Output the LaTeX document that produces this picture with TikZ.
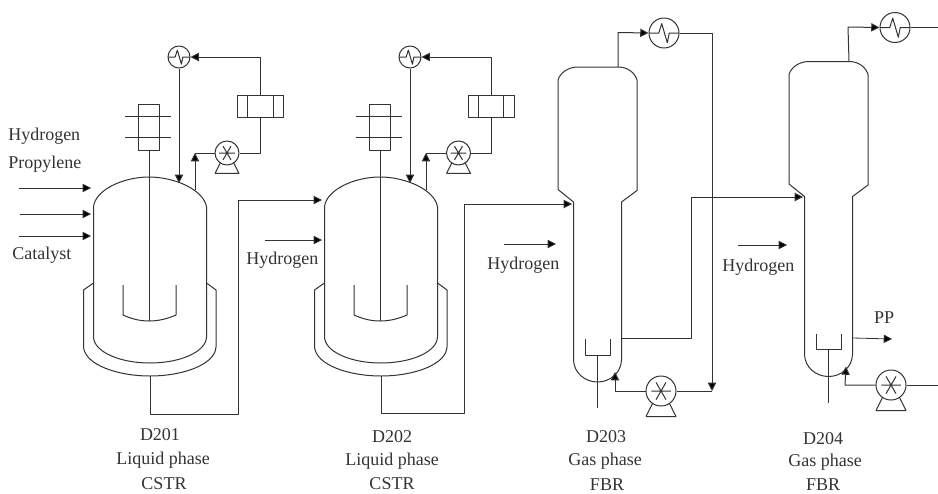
\documentclass[tikz,border=0pt]{standalone}
\usepackage{fontspec}
\setmainfont{Liberation Serif}
\usetikzlibrary{arrows.meta}
\definecolor{ink}{HTML}{333333}
\tikzset{
  line/.style={draw=ink,line width=0.75pt,line join=round},
  flow/.style={line,-{Triangle[length=6.2pt,width=6.2pt,fill=black]}},
  feed/.style={draw=ink,line width=0.6pt,-{Triangle[length=6.2pt,width=6.2pt,fill=black]}},
  lbl/.style={text=ink,inner sep=0pt,font=\fontsize{13.5pt}{16pt}\selectfont},
  ring/.style={circle,line,fill=white,inner sep=0pt,minimum size=#1*1.5pt},
  pics/pump/.style={code={
    \draw[line] (-#1,1.7*#1) -- (#1,1.7*#1) -- (.55*#1,.8*#1) (-#1,1.7*#1) -- (-.55*#1,.8*#1);
    \node[ring=#1] (-c) at (0,0) {};
    \draw[line] (-.65*#1,0) -- (.65*#1,0) (-.33*#1,-.57*#1) -- (.33*#1,.57*#1) (-.33*#1,.57*#1) -- (.33*#1,-.57*#1);
  }},
  pics/cooler/.style={code={
    \node[ring=#1] (-c) at (0,0) {};
    \draw[line] (-#1,0) -- (-.35*#1,0) -- (-.15*#1,-.62*#1) -- (.22*#1,.65*#1) -- (.35*#1,0) -- (#1,0);
  }},
  pics/reactor/.style={code={
    \coordinate (-top) at (149,177);
    \coordinate (-down) at (179,183);
    \coordinate (-up) at (195,190);
    \coordinate (-out) at (150,376);
    \draw[line] (93.5,283) -- (93.5,337) .. controls (94,352) and (120,363) .. (150,363)
      .. controls (180,363) and (206,352) .. (206.5,337) -- (206.5,207)
      .. controls (204,190) and (175,177) .. (149,177)
      .. controls (123,177) and (95,190) .. (93.5,207) -- (93.5,283);
    \draw[line] (93.5,283) -- (83.5,290) -- (83.5,347) .. controls (85,365) and (118,376) .. (150,376)
      .. controls (182,376) and (215,365) .. (216,347) -- (216,290) -- (206.5,283);
    \draw[line] (123,285) -- (123,315) .. controls (132,319) and (140,321) .. (149,321)
      .. controls (158,321) and (167,319) .. (176,315) -- (176,285);
    \draw[line] (138,104) rectangle (159,150);
    \draw[line] (125,116) -- (171,116) (125,137) -- (171,137);
    \draw[line] (149,150) -- (149,321);
  }},
  pics/column/.style={code={
    \coordinate (-outl) at (618,67);
    \coordinate (-ret) at (615,372);
    \coordinate (-side) at (621.5,338);
    \draw[line] (573.5,202) -- (573.5,360) .. controls (574,373) and (585,382) .. (597.5,382)
      .. controls (610,382) and (621,373) .. (621.5,360) -- (621.5,202) -- (637,190.5) -- (637,80)
      .. controls (635,73) and (628,67) .. (618,67) -- (578,67)
      .. controls (568,67) and (560,73) .. (558,80) -- (558,189.5) -- cycle;
    \draw[line] (585.5,339) -- (585.5,355) -- (610,355) -- (610,339);
    \draw[line] (597.5,355) -- (597.5,408);
  }}
}
\begin{document}
\begin{tikzpicture}[x=0.75pt,y=-0.75pt]
\useasboundingbox (0,0) rectangle (938,493);
% vessels
\pic (r1) at (0,0) {reactor};
\pic (r2) at (231,0) {reactor};
\pic (c3) at (0,0) {column};
\pic (c4) at (231,-5.5) {column};
% exchangers, pumps, filters
\pic (h1) at (179,57) {cooler=11};
\pic (h2) at (410,57) {cooler=11};
\pic (h3) at (664,33) {cooler=15};
\pic (h4) at (895,27.5) {cooler=15};
\pic (p1) at (227,153) {pump=12};
\pic (p2) at (458.5,153) {pump=12};
\pic (p3) at (661,391) {pump=15};
\pic (p4) at (891,385) {pump=15};
\node[line,minimum width=34.5pt,minimum height=16.5pt,inner sep=0pt] (b1) at (260,106) {};
\node[line,minimum width=34.5pt,minimum height=16.5pt,inner sep=0pt] (b2) at (491,106) {};
\draw[line] (247,95) -- (247,117) (273,95) -- (273,117) (478,95) -- (478,117) (503,95) -- (503,117);
% loop coordinates
\coordinate (a1) at (195,153);
\coordinate (k1) at (260,153);
\coordinate (n1) at (260,57);
\coordinate (a2) at (426,153);
\coordinate (k2) at (491,153);
\coordinate (n2) at (491,57);
\coordinate (j1) at (238,414);
\coordinate (j2) at (464,413);
\coordinate (e1) at (322,200);
\coordinate (e2) at (572,204);
\coordinate (j3) at (691,338);
\coordinate (e3) at (803,197);
\coordinate (t3) at (618,32.5);
\coordinate (t4) at (848,27);
\coordinate (d3) at (712,33);
\coordinate (d3b) at (712,391);
\coordinate (q3) at (615,391);
\coordinate (q4) at (845,385);
\coordinate (x4) at (938,27.5);
\coordinate (y4) at (938,385);
\coordinate (s4) at (853,338);
\coordinate (pp) at (892,339);
% reflux loops
\draw[flow] (h1-c.south) -- (r1-down);
\draw[flow] (h2-c.south) -- (r2-down);
\draw[flow] (r1-up) -- (a1);
\draw[line] (a1) -- (p1-c.west);
\draw[line] (p1-c.east) -- (k1) -- (b1.south);
\draw[flow] (b1.north) -- (n1) -- (h1-c.east);
\draw[flow] (r2-up) -- (a2);
\draw[line] (a2) -- (p2-c.west);
\draw[line] (p2-c.east) -- (k2) -- (b2.south);
\draw[flow] (b2.north) -- (n2) -- (h2-c.east);
% transfers
\draw[flow] (r1-out) |- (j1) |- (e1);
\draw[flow] (r2-out) |- (j2) |- (e2);
\draw[flow] (c3-side) -| (j3) |- (e3);
% column loops
\draw[flow] (c3-outl) -- (t3) -- (h3-c.west);
\draw[flow] (c4-outl) -- (t4) -- (h4-c.west);
\draw[flow] (h3-c.east) -- (d3) -- (d3b);
\draw[line] (d3b) -- (p3-c.east);
\draw[flow] (p3-c.west) -- (q3) -- (c3-ret);
\draw[flow] (p4-c.west) -- (q4) -- (c4-ret);
\draw[line] (h4-c.east) -- (x4);
\draw[line] (p4-c.east) -- (y4);
\draw[feed] (s4) -- (pp);
% feed arrows
\coordinate (f1a) at (19,188); \coordinate (f1b) at (91,188);
\coordinate (f2a) at (20,214); \coordinate (f2b) at (91,214);
\coordinate (f3a) at (19,236); \coordinate (f3b) at (91,236);
\coordinate (f4a) at (265,240); \coordinate (f4b) at (322,240);
\coordinate (f5a) at (504,244); \coordinate (f5b) at (556,244);
\coordinate (f6a) at (738,245); \coordinate (f6b) at (787,245);
\draw[feed] (f1a) -- (f1b);
\draw[feed] (f2a) -- (f2b);
\draw[feed] (f3a) -- (f3b);
\draw[feed] (f4a) -- (f4b);
\draw[feed] (f5a) -- (f5b);
\draw[feed] (f6a) -- (f6b);
% labels
\node[lbl,anchor=west] (t1) at (8,136) {Hydrogen};
\node[lbl,anchor=west] (t2) at (8,164) {Propylene};
\node[lbl,anchor=west] (t3a) at (12,255) {Catalyst};
\node[lbl,anchor=west] (t4a) at (246,260) {Hydrogen};
\node[lbl,anchor=west] (t5) at (487,265) {Hydrogen};
\node[lbl,anchor=west] (t6) at (722,267) {Hydrogen};
\node[lbl] (t7) at (884,318) {PP};
\node[lbl] (d1a) at (160,435) {D201};
\node[lbl] (d1b) at (163,460) {Liquid phase};
\node[lbl] (d1c) at (164,484) {CSTR};
\node[lbl] (d2a) at (392,437) {D202};
\node[lbl] (d2b) at (392,461) {Liquid phase};
\node[lbl] (d2c) at (392,484) {CSTR};
\node[lbl] (d3a) at (606,437) {D203};
\node[lbl] (d3c) at (605,461) {Gas phase};
\node[lbl] (d3e) at (607,484.5) {FBR};
\node[lbl] (d4a) at (823,439) {D204};
\node[lbl] (d4b) at (825,462) {Gas phase};
\node[lbl] (d4c) at (823,485) {FBR};
\end{tikzpicture}
\end{document}
